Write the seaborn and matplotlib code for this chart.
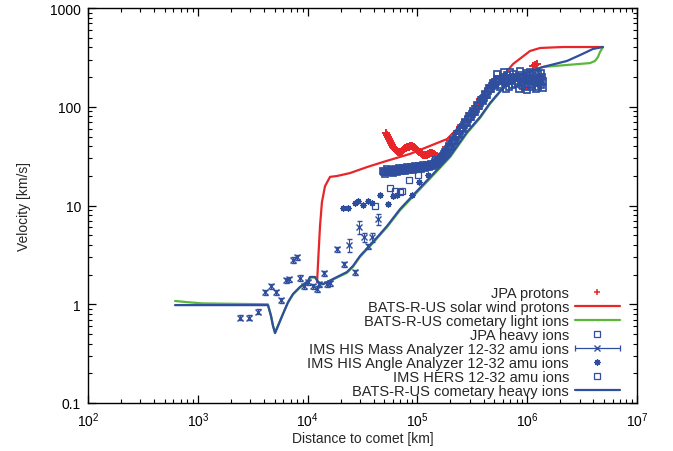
import matplotlib
matplotlib.use("Agg")
import matplotlib.pyplot as plt
import matplotlib.ticker as mticker
from matplotlib.lines import Line2D
from matplotlib.legend_handler import HandlerLine2D
import seaborn as sns

RED = "#e8262a"
GREEN = "#5bb83a"
BLUE = "#2f4f9e"

# ---------------------------------------------------------------------------
# Data
# ---------------------------------------------------------------------------
# BATS-R-US solar wind protons
sw_dist = [12200, 12500, 12970, 13500, 14400, 16000, 18500, 24300, 34700, 48700,
           85600, 186000, 229700, 372000, 602000, 743000, 1.06e6, 1.31e6, 2.12e6, 4.9e6]
sw_vel = [1.68, 2.87, 6.2, 10.8, 15.7, 19.5, 19.9, 21.3, 24.5, 27.6,
          33.3, 47.1, 59.6, 109, 205, 271, 367, 394, 403, 403]

# BATS-R-US cometary heavy ions
heavy_dist = [620, 4350, 4640, 4840, 5050, 5370, 5970, 6630, 7360, 8530, 10090, 10520,
              11670, 12500, 13800, 17000, 22800, 25900, 30000, 39400, 52900, 69500,
              99100, 138700, 198000, 283000, 372000, 458000, 589000, 697000, 955000,
              1.39e6, 1.51e6, 2.30e6, 3.03e6, 3.97e6, 4.9e6]
heavy_vel = [0.98, 0.98, 0.76, 0.60, 0.51, 0.60, 0.80, 1.05, 1.27, 1.50, 1.72, 1.89,
             1.89, 1.68, 1.60, 1.80, 2.12, 2.44, 3.08, 4.27, 6.20, 9.2,
             14.0, 20.8, 31.7, 55.5, 78.7, 109, 151, 191, 220,
             253, 259, 291, 334, 385, 403]

# BATS-R-US cometary light ions
light_dist = [620, 800, 1100, 4350, 4640, 4840, 5050, 5370, 5970, 6630, 7360, 8530,
              10090, 10520, 11670, 12500, 13800, 17000, 22800, 25900, 30000, 39400,
              52900, 69500, 99100, 138700, 198000, 283000, 372000, 458000, 589000,
              697000, 955000, 1.39e6, 2.30e6, 3.73e6, 4.14e6, 4.41e6, 4.60e6, 4.9e6]
light_vel = [1.08, 1.05, 1.02, 1.0, 0.77, 0.61, 0.52, 0.61, 0.80, 1.04, 1.26, 1.48,
             1.70, 1.87, 1.87, 1.67, 1.59, 1.78, 2.08, 2.40, 3.02, 4.18,
             6.05, 8.95, 13.6, 20.2, 30.8, 54.0, 77.0, 107, 149,
             189, 218, 253, 265, 277, 291, 319, 358, 403]

# JPA protons
jpa_p_dist = [51800, 52900, 54000, 55150, 56300, 57500, 58700, 59950, 61200, 62500,
              63800, 65150, 66500, 67900, 69500, 70950, 72400, 73950, 75500, 77100,
              78700, 80350, 82100, 83850, 85600, 87400, 89300, 91200, 93100, 95050,
              97100, 99150, 101200, 103350, 105600, 107850, 110100, 112450, 114800, 117250,
              119700, 122250, 124800, 127450, 130200, 132950, 135800, 138700, 141600, 144600,
              147700, 150800, 154000, 157250, 160600, 164000, 167500,
              182000, 198000, 220000, 244000, 271000, 301000, 335000, 372000, 413000,
              458000, 509000, 565000, 916000, 1.13e6, 1.18e6, 1.23e6]
jpa_p_vel = [54.2, 51.8, 49.4, 47.2, 45.0, 42.9, 41.0, 39.6, 38.2, 37.3,
             36.5, 35.6, 34.8, 34.8, 34.8, 35.2, 35.6, 36.5, 37.3, 37.8,
             38.2, 38.7, 39.1, 39.6, 40.1, 40.1, 40.1, 39.6, 39.1, 38.2,
             37.3, 36.5, 35.6, 35.2, 34.8, 34.0, 33.2, 32.8, 32.4, 32.4,
             32.4, 32.8, 33.2, 33.6, 34.0, 34.0, 34.0, 33.6, 33.2, 32.4,
             31.7, 31.4, 31.0, 31.0, 31.0, 31.4, 31.7,
             39.1, 45.0, 53.0, 62.4, 73.5, 86.4, 102, 120, 141,
             166, 191, 205, 151, 259, 265, 271]

# JPA heavy ions
jpa_h_dist = [48700, 49700, 50700, 51800, 52900, 54000, 55100, 56300, 57500, 58700,
              59900, 61200, 62500, 63800, 65200, 66600, 68000, 69400, 70900, 72400,
              73900, 75500, 77100, 78700, 80400, 82100, 83800, 85600, 87400, 89300,
              91200, 93100, 95100, 97100, 99100, 101200, 103400, 105600, 107800, 110100,
              112500, 114900, 117300, 119800, 122300, 124900, 127500, 130200, 133000, 135800,
              138700, 141700, 144700, 147700, 150700, 154000, 157300, 160600, 164000, 167500,
              171000,
              174500, 178000, 182000, 186000, 190000, 194000, 198000, 202000, 206000, 211000,
              215500, 220000, 224800, 229600, 234300, 239000, 244000, 249000, 254500, 260000,
              265500, 271000, 277000, 283000, 289000, 295000, 301500, 308000, 314500, 321000,
              328000, 335000, 342000, 349000, 356500, 364000, 372000, 380000, 388000, 396000,
              404500, 413000, 421500, 430000, 439500, 449000, 458500, 468000, 478000, 488000,
              498500, 509000, 520000, 531000, 542000, 553000,
              531000, 542000, 565000, 577000, 589000, 602000, 615000, 628000, 641000, 641000,
              655000, 669000, 683000, 697000, 712000, 727000, 727000, 743000, 758000, 774000,
              790000, 807000, 824000, 842000, 860000, 860000, 878000, 897000, 897000, 916000,
              935000, 955000, 975000, 975000, 996000, 996000, 1.02e6, 1.04e6, 1.06e6, 1.06e6,
              1.08e6, 1.10e6, 1.10e6, 1.13e6, 1.15e6, 1.18e6, 1.20e6, 1.20e6, 1.22e6, 1.25e6,
              1.25e6, 1.28e6, 1.28e6, 1.31e6, 1.34e6, 1.34e6, 1.36e6, 1.39e6, 1.39e6]
jpa_h_vel = [22.3, 22.0, 20.8, 22.0, 23.4, 22.6, 21.8, 22.3, 22.9, 22.1,
             21.3, 22.3, 23.4, 22.6, 21.8, 22.9, 24.0, 23.1, 22.3, 23.1,
             24.0, 23.1, 22.3, 23.4, 24.5, 23.6, 22.9, 23.6, 24.5, 23.6,
             22.9, 24.0, 25.1, 24.2, 23.4, 24.2, 25.1, 24.2, 23.4, 24.5,
             25.7, 24.8, 24.0, 24.8, 25.7, 25.1, 24.5, 25.4, 26.3, 25.7,
             25.1, 26.3, 27.6, 26.9, 26.3, 27.6, 28.9, 29.2, 29.6, 30.6,
             31.7,
             33.3, 34.9, 34.5, 34.0, 37.0, 40.0, 39.6, 39.1, 42.5, 46.1,
             45.5, 45.0, 49.0, 53.0, 52.4, 51.8, 56.5, 61.0, 60.3, 59.6,
             64.8, 70.1, 69.3, 68.5, 74.5, 80.5, 79.6, 78.8, 84.6, 90.5,
             89.5, 88.5, 96.0, 104, 103, 102, 109, 117, 116, 115,
             124, 134, 133, 132, 143, 155, 153, 152, 163, 174,
             170, 166, 178, 191, 187, 182,
             215, 191, 159, 166, 182, 200, 225, 174, 191, 151,
             210, 182, 159, 225, 187, 196, 166, 215, 200, 170,
             182, 196, 174, 151, 230, 200, 210, 196, 166, 178,
             196, 159, 187, 210, 220, 148, 170, 191, 225, 196,
             166, 182, 159, 205, 191, 178, 151, 220, 187, 215,
             159, 174, 196, 191, 166, 220, 200, 182, 155]

# IMS HIS Mass Analyzer 12-32 amu ions
mass_dist = [2420, 2920, 3530, 4090, 4640, 5150, 5730, 6360, 6770, 7360, 8000, 8530,
             9270, 10090, 11200, 12180, 12700, 14100, 15000, 16000, 18500, 21500,
             23900, 27000, 29400, 32600, 35500, 38600, 43800]
mass_vel = [0.73, 0.73, 0.84, 1.33, 1.53, 1.33, 1.10, 1.76, 1.80, 2.81, 3.01, 1.85,
            1.53, 1.68, 1.53, 1.43, 1.60, 2.07, 1.60, 1.64, 3.62, 2.56,
            3.98, 2.12, 6.06, 4.80, 3.89, 4.80, 7.29]
mass_err = [0.044, 0.044, 0.05, 0.08, 0.09, 0.08, 0.066, 0.105, 0.108, 0.17, 0.18, 0.11,
            0.09, 0.10, 0.09, 0.086, 0.096, 0.124, 0.096, 0.098, 0.22, 0.15,
            0.6, 0.127, 0.9, 0.48, 0.23, 0.48, 0.87]

# IMS HIS Angle Analyzer 12-32 amu ions
angle_dist = [21000, 23300, 27000, 28800, 32000, 35500, 38600, 45600, 54000, 59900,
              65200, 89300, 103400, 125000]
angle_vel = [9.44, 9.44, 10.6, 11.1, 10.1, 11.1, 10.6, 12.8, 10.4, 12.5,
             12.8, 12.8, 17.3, 20.4]

# IMS HERS 12-32 amu ions
hers_dist = [41100, 56300, 62500, 69500, 72500, 83800, 101200, 144700]
hers_vel = [9.9, 15.0, 14.0, 13.7, 14.0, 18.1, 20.4, 29.6]

labels = [
    "JPA protons",
    "BATS-R-US solar wind protons",
    "BATS-R-US cometary light ions",
    "JPA heavy ions",
    "IMS HIS Mass Analyzer 12-32 amu ions",
    "IMS HIS Angle Analyzer 12-32 amu ions",
    "IMS HERS 12-32 amu ions",
    "BATS-R-US cometary heavy ions",
]

# ---------------------------------------------------------------------------
# Plot
# ---------------------------------------------------------------------------
sns.set_theme(style="ticks")
plt.rcParams["font.family"] = ["Liberation Sans", "DejaVu Sans"]
plt.rcParams["mathtext.fontset"] = "custom"
plt.rcParams["mathtext.rm"] = "Liberation Sans"

fig, ax = plt.subplots(figsize=(6.73, 4.52), dpi=100)
fig.subplots_adjust(left=0.1308, right=0.9465, bottom=0.1062, top=0.980)
ax.set_xscale("log")
ax.set_yscale("log")

sq_kw = dict(ls="none", marker="s", mfc="none", mec=BLUE, ms=4.4, mew=0.9)

ax.plot(jpa_p_dist, jpa_p_vel, ls="none", marker="+", color=RED, ms=6, mew=1.4, zorder=2)
sns.lineplot(x=sw_dist, y=sw_vel, ax=ax, color=RED, lw=1.6, sort=False,
             estimator=None, zorder=3)
sns.lineplot(x=light_dist, y=light_vel, ax=ax, color=GREEN, lw=1.6, sort=False,
             estimator=None, zorder=4)
ax.plot(jpa_h_dist, jpa_h_vel, ls="none", marker="s", mfc="none", mec=BLUE, ms=4.6,
        mew=1.25, zorder=5)
ax.errorbar(mass_dist, mass_vel, yerr=mass_err, fmt="x", color=BLUE, ms=4, mew=1.0,
            elinewidth=0.8, capsize=1.8, capthick=0.8, zorder=6)
ax.plot(angle_dist, angle_vel, ls="none", marker=(8, 2, 0), color=BLUE, ms=4.5,
        mew=0.9, zorder=7)
ax.plot(hers_dist, hers_vel, zorder=8, **sq_kw)
sns.lineplot(x=heavy_dist, y=heavy_vel, ax=ax, color=BLUE, lw=1.6, sort=False,
             estimator=None, zorder=9)

ax.set_xlim(1e2, 1e7)
ax.set_ylim(0.1, 1000)
ax.yaxis.set_major_formatter(mticker.FuncFormatter(lambda v, p: f"{v:g}"))
ax.yaxis.set_minor_formatter(mticker.NullFormatter())
ax.xaxis.set_major_locator(mticker.LogLocator(base=10, numticks=10))
ax.xaxis.set_minor_locator(mticker.LogLocator(base=10, subs=range(2, 10), numticks=10))
ax.tick_params(which="both", direction="in", top=True, right=True, colors="black",
               labelsize=10)
ax.tick_params(which="major", length=6, width=0.9, pad=5)
ax.tick_params(which="minor", length=3, width=0.8)
for s in ax.spines.values():
    s.set_color("black")
    s.set_linewidth(1.0)

ax.set_xlabel("Distance to comet [km]", fontsize=10, labelpad=2)
ax.set_ylabel("Velocity [km/s]", fontsize=10, labelpad=14)

# legend (text right-aligned, sample on the right, gnuplot style)
h_p = Line2D([], [], ls="none", marker="+", color=RED, ms=5, mew=1.1)
h_sw = Line2D([], [], color=RED, lw=1.6)
h_li = Line2D([], [], color=GREEN, lw=1.6)
h_sq = Line2D([], [], **sq_kw)
h_m = Line2D([], [], color=BLUE, lw=0.9, marker="x", ms=4, mew=1.0)
h_caps = Line2D([], [], ls="none", marker="|", color=BLUE, ms=5, mew=0.9)
h_ang = Line2D([], [], ls="none", marker=(8, 2, 0), color=BLUE, ms=4.5, mew=0.9)
h_hv = Line2D([], [], color=BLUE, lw=1.6)

leg = ax.legend([h_p, h_sw, h_li, h_sq, (h_m, h_caps), h_ang, h_sq, h_hv], labels,
                handler_map={h_caps: HandlerLine2D(numpoints=2, marker_pad=0)},
                loc="lower right", bbox_to_anchor=(0.969, 0.012), frameon=False,
                markerfirst=False, fontsize=10.5, handlelength=3.1, handletextpad=0.4,
                labelspacing=0.0, borderpad=0, borderaxespad=0, numpoints=1)
for col in leg._legend_handle_box.get_children():
    col.align = "right"

fig.savefig("out.png", dpi=100)
